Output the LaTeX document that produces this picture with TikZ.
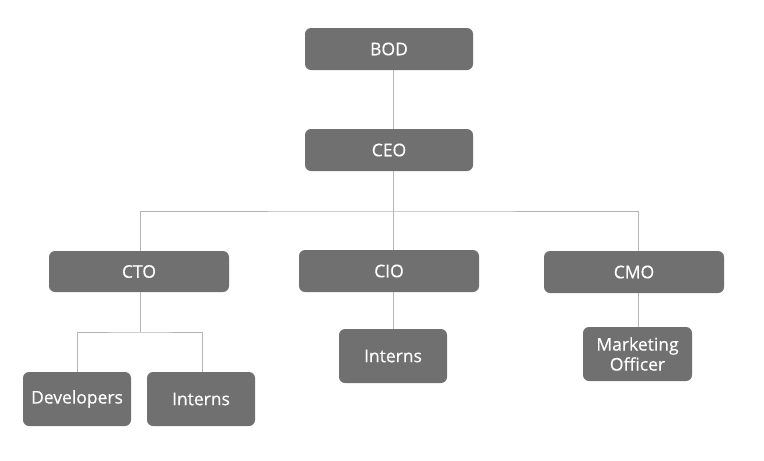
\documentclass[tikz,border=0pt]{standalone}
\usepackage{fontspec}
\setmainfont{Open Sans}
\newfontfamily\rolefont{Open Sans}[FakeBold=0.45]
\definecolor{boxgray}{HTML}{707070}
\definecolor{linegray}{HTML}{B4B4B4}
\tikzset{
  role/.style={rectangle, rounded corners=6pt, fill=boxgray, text=white,
    align=center, inner sep=0, font=\rolefont\fontsize{17.5}{20}\selectfont},
  wire/.style={draw=linegray, line width=0.8pt}
}
\begin{document}
\begin{tikzpicture}[x=1pt, y=-1pt]
  \useasboundingbox (0,0) rectangle (764,461);

  % top levels
  \node[role, minimum width=168pt, minimum height=42pt] (bod) at (389,49) {BOD};
  \node[role, minimum width=168pt, minimum height=42pt] (ceo) at (389,150) {CEO};

  % chiefs
  \node[role, minimum width=180pt, minimum height=41pt] (cto) at (139,271.5) {CTO};
  \node[role, minimum width=180pt, minimum height=42pt] (cio) at (389,271) {CIO};
  \node[role, minimum width=180pt, minimum height=42pt] (cmo) at (634,272) {CMO};

  % staff
  \node[role, minimum width=108pt, minimum height=54pt] (dev) at (77,399) {Developers};
  \node[role, minimum width=108pt, minimum height=54pt] (ctoint) at (201,399) {Interns};
  \node[role, minimum width=108pt, minimum height=54pt] (cioint) at (393,356) {Interns};
  \node[role, minimum width=109pt, minimum height=54pt] (mkt) at (637.5,354) {Marketing\\Officer};

  \coordinate (topbus) at (393.5,211);
  \coordinate (ctobus) at (140,332);

  \draw[wire] ([xshift=4.5pt]bod.south) -- ([xshift=4.5pt]ceo.north);
  \draw[wire] ([xshift=4.5pt]ceo.south) -- (topbus);
  \draw[wire] ([xshift=1pt]cto.north) |- (topbus) -| ([xshift=4pt]cmo.north);
  \draw[wire] (topbus) -- (topbus |- cio.north);

  \draw[wire] ([xshift=1pt]cto.south) -- (ctobus);
  \draw[wire] (dev.north) |- (ctobus) -| ([xshift=1pt]ctoint.north);
  \draw[wire] ([xshift=4.5pt]cio.south) -- ([xshift=4.5pt]cio.south |- cioint.north);
  \draw[wire] ([xshift=4pt]cmo.south) -- ([xshift=4pt]cmo.south |- mkt.north);
\end{tikzpicture}
\end{document}
